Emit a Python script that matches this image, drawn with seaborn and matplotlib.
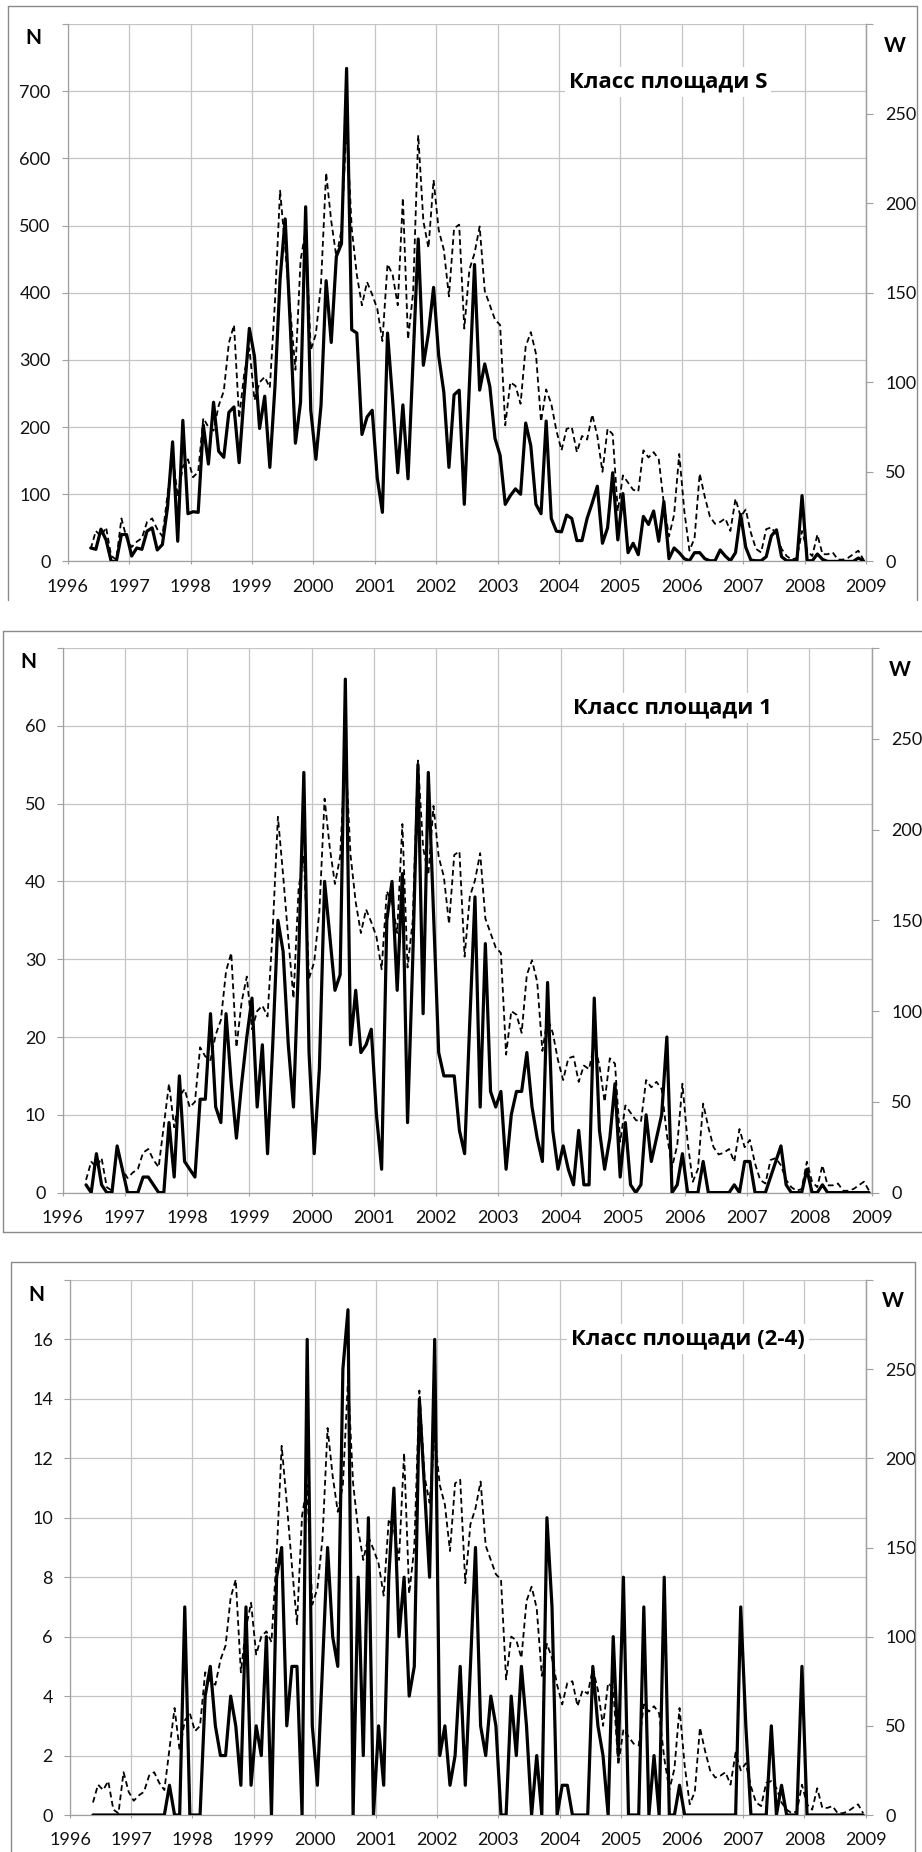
import numpy as np
import pandas as pd
import matplotlib
matplotlib.use("Agg")
import matplotlib.pyplot as plt
import seaborn as sns
from matplotlib.lines import Line2D

# ---------------- data (monthly, May 1996 .. Dec 2008) ----------------
start_year, start_month = 1996, 5

# Wolf number W (dashed line, right axis) - same in all panels
W = [7, 17, 14, 19, 3, 1, 24, 13,                                  # 1996 May-Dec
     8, 11, 13, 22, 24, 18, 14, 37, 60, 36, 53, 57,                # 1997
     47, 50, 80, 75, 73, 87, 95, 122, 132, 80, 105, 119,           # 1998
     90, 100, 103, 97, 145, 207, 175, 140, 107, 168, 185, 118,     # 1999
     127, 155, 217, 190, 170, 185, 244, 186, 160, 143, 156, 149,   # 2000
     141, 123, 166, 160, 143, 203, 124, 150, 238, 190, 175, 213,   # 2001
     185, 174, 148, 186, 188, 130, 163, 172, 187, 151, 143, 135,   # 2002
     132, 76, 100, 98, 88, 120, 128, 116, 78, 96, 88, 73,          # 2003
     62, 74, 75, 61, 70, 68, 82, 70, 50, 74, 71, 28,               # 2004
     48, 44, 40, 39, 62, 58, 61, 57, 32, 14, 26, 60,               # 2005
     28, 6, 13, 49, 36, 25, 21, 22, 24, 17, 35, 25,                # 2006
     29, 16, 7, 5, 18, 19, 15, 7, 3, 1, 2, 17,                     # 2007
     6, 3, 15, 4, 4, 5, 1, 1, 2, 4, 6, 1]                          # 2008

# N, area class S
N_S = [20, 18, 48, 32, 0, 0, 40, 40,
       8, 20, 18, 45, 50, 17, 25, 80, 178, 30, 210, 71,
       74, 73, 203, 145, 237, 164, 155, 222, 230, 147, 250, 347,
       305, 198, 246, 140, 260, 420, 510, 350, 176, 237, 528, 225,
       152, 232, 418, 326, 454, 473, 734, 345, 340, 189, 215, 225,
       124, 73, 340, 240, 132, 233, 123, 300, 480, 292, 340, 408,
       306, 252, 140, 248, 255, 85, 265, 442, 255, 294, 260, 183,
       158, 85, 98, 108, 100, 206, 172, 85, 71, 209, 64, 45,
       44, 69, 64, 31, 31, 64, 87, 112, 27, 50, 132, 32,
       101, 13, 27, 10, 67, 55, 75, 30, 89, 4, 20, 13,
       4, 1, 13, 13, 4, 1, 1, 17, 8, 1, 13, 70,
       21, 2, 1, 1, 7, 38, 47, 7, 1, 1, 1, 98,
       1, 1, 11, 3, 0, 0, 0, 0, 0, 0, 5, 1]

# N, area class 1
N_1 = [1, 0, 5, 1, 0, 0, 6, 3,
       0, 0, 0, 2, 2, 1, 0, 0, 9, 2, 15, 4,
       3, 2, 12, 12, 23, 11, 9, 23, 14, 7, 14, 20,
       25, 11, 19, 5, 19, 35, 31, 19, 11, 30, 54, 18,
       5, 16, 40, 33, 26, 28, 66, 19, 26, 18, 19, 21,
       10, 3, 35, 40, 26, 41, 9, 30, 55, 23, 54, 36,
       18, 15, 15, 15, 8, 5, 22, 38, 11, 32, 13, 11,
       13, 3, 10, 13, 13, 18, 11, 7, 4, 27, 8, 3,
       6, 3, 1, 8, 1, 1, 25, 8, 3, 7, 14, 2,
       9, 1, 0, 1, 10, 4, 7, 10, 20, 0, 1, 5,
       0, 0, 0, 4, 0, 0, 0, 0, 0, 1, 0, 4,
       4, 0, 0, 0, 2, 4, 6, 1, 0, 0, 0, 3,
       0, 0, 1, 0, 0, 0, 0, 0, 0, 0, 0, 0]

# N, area class (2-4)
N_24 = [0, 0, 0, 0, 0, 0, 0, 0,
        0, 0, 0, 0, 0, 0, 0, 1, 0, 0, 7, 0,
        0, 0, 4, 5, 3, 2, 2, 4, 3, 1, 7, 1,
        3, 2, 6, 0, 8, 9, 3, 5, 5, 0, 16, 3,
        1, 5, 9, 6, 5, 15, 17, 0, 8, 2, 10, 0,
        3, 1, 8, 11, 6, 8, 4, 5, 14, 11, 8, 16,
        2, 3, 1, 2, 5, 1, 5, 9, 3, 2, 4, 3,
        0, 0, 4, 2, 5, 3, 0, 2, 0, 10, 7, 0,
        1, 1, 0, 0, 0, 0, 5, 3, 2, 0, 6, 2,
        8, 0, 0, 0, 7, 0, 2, 0, 8, 0, 0, 1,
        0, 0, 0, 0, 0, 0, 0, 0, 0, 0, 0, 7,
        3, 0, 0, 0, 0, 3, 0, 1, 0, 0, 0, 5,
        0, 0, 0, 0, 0, 0, 0, 0, 0, 0, 0, 0]

titles = ["Класс площади S", "Класс площади 1", "Класс площади (2-4)"]
series = [N_S, N_1, N_24]
n_max = [800, 70, 18]
n_step = [100, 10, 2]
w_max, w_step = 300, 50
years = list(range(1996, 2010))

# ---------------- figure ----------------
sns.set_theme(style="white")
plt.rcParams["font.family"] = ["Lato", "DejaVu Sans"]

FW, FH = 922, 1852
fig = plt.figure(figsize=(FW / 100, FH / 100), dpi=100)

def fx(x):
    return x / FW

def fy(y):
    return 1 - y / FH

# panel geometry in pixels (left, right, top, bottom) and label spots
geo = [
    dict(l=67.7, r=866.0, t=24.1, b=561.4, N=(33, 38), W=(895, 46), T=(668, 82)),
    dict(l=62.7, r=871.7, t=648.0, b=1192.6, N=(28, 662), W=(900, 670), T=(672, 708)),
    dict(l=70.0, r=865.7, t=1280.0, b=1815.0, N=(36, 1295), W=(893, 1301), T=(688, 1339)),
]
frames = [
    [((8, 6), (8, 600)), ((8, 6), (917, 6)), ((917, 6), (917, 600))],
    [((3, 631), (922, 631)), ((3, 631), (3, 1232)), ((3, 1232), (922, 1232))],
    [((11, 1262), (915, 1262)), ((11, 1262), (11, 1852)), ((915, 1262), (915, 1852))],
]

n = len(W)
months = pd.date_range(f"{start_year}-{start_month:02d}-01", periods=n, freq="MS")
t = months.year + (months.month - 0.5) / 12.0

GRID = "#c4c4c4"
AXC = "#a0a0a0"
TXT = "#111111"

for k in range(3):
    g = geo[k]
    ax = fig.add_axes([fx(g["l"]), fy(g["b"]), fx(g["r"] - g["l"]), (g["b"] - g["t"]) / FH])
    df = pd.DataFrame({"t": t, "N": series[k], "W": W})

    ax.set_axisbelow(True)
    sns.lineplot(data=df, x="t", y="N", ax=ax, color="black", linewidth=2.3,
                 estimator=None, solid_joinstyle="round", zorder=3)
    ax.set_xlim(1996, 2009)
    ax.set_ylim(0, n_max[k])
    ax.set_xticks(years)
    ax.set_xticklabels([str(y) for y in years])
    yt = list(range(0, n_max[k] + 1, n_step[k]))
    ax.set_yticks(yt)
    ax.set_yticklabels([str(v) for v in yt[:-1]] + [""])
    ax.grid(True, color=GRID, linewidth=0.9)
    ax.set_xlabel("")
    ax.set_ylabel("")
    for s in ["left", "bottom", "right"]:
        ax.spines[s].set_color(AXC)
        ax.spines[s].set_linewidth(0.9)
    ax.spines["top"].set_visible(False)
    ax.tick_params(axis="y", which="both", left=True, length=4.3, width=0.8,
                   color=AXC, pad=8, labelsize=13, labelcolor=TXT)
    ax.tick_params(axis="x", which="both", bottom=True, length=2.5, width=0.8,
                   color=AXC, pad=10, labelsize=13, labelcolor=TXT)

    ax2 = ax.twinx()
    sns.lineplot(data=df, x="t", y="W", ax=ax2, color="black", linewidth=1.3,
                 estimator=None, zorder=4)
    for ln in ax2.lines:
        ln.set_dashes([3.2, 2.0])
    ax2.set_ylim(0, w_max)
    wt = list(range(0, w_max + 1, w_step))
    ax2.set_yticks(wt)
    ax2.set_yticklabels([str(v) for v in wt[:-1]] + [""])
    ax2.set_ylabel("")
    ax2.grid(False)
    for s in ["left", "bottom", "top"]:
        ax2.spines[s].set_visible(False)
    ax2.spines["right"].set_color(AXC)
    ax2.spines["right"].set_linewidth(0.9)
    ax2.tick_params(axis="y", right=True, length=5, width=0.8, color=AXC,
                    pad=9, labelsize=13, labelcolor=TXT)

    # axis titles and panel title
    fig.text(fx(g["N"][0]), fy(g["N"][1]), "N", fontsize=15, fontweight="bold",
             ha="center", va="center", color="black")
    fig.text(fx(g["W"][0]), fy(g["W"][1]), "W", fontsize=15, fontweight="bold",
             ha="center", va="center", color="black")
    fig.text(fx(g["T"][0]), fy(g["T"][1]), titles[k], fontsize=16, fontweight="bold",
             family="Open Sans", ha="center", va="center", color="black", zorder=10,
             bbox=dict(facecolor="white", edgecolor="none", pad=3))

    # outer chart frame
    for (x0, y0), (x1, y1) in frames[k]:
        fig.add_artist(Line2D([fx(x0), fx(x1)], [fy(y0), fy(y1)],
                              color="#8a8a8a", linewidth=1.0))

fig.savefig("out.png", dpi=100, facecolor="white")
